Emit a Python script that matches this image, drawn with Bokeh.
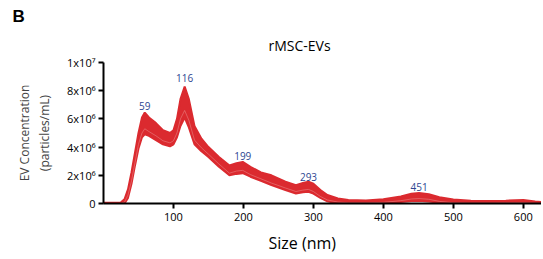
from bokeh.plotting import figure
from bokeh.models import Label, FixedTicker, ColumnDataSource, Range1d, Title
from bokeh.embed import file_html
from bokeh.resources import INLINE

size_nm = [0, 10, 20, 25, 30, 35, 40, 45, 50, 55, 59, 65, 75, 85, 95, 100, 105, 110, 116, 122,
           130, 140, 150, 165, 180, 190, 199, 210, 225, 240, 260, 275, 285, 293, 300, 310, 320,
           335, 350, 375, 400, 425, 440, 451, 465, 480, 500, 525, 550, 575, 600, 617, 626]
upper_e6 = [0.05, 0.05, 0.05, 0.08, 0.3, 1.0, 2.2, 3.6, 5.0, 6.1, 6.45, 6.1, 5.7, 5.2, 5.0, 5.2, 6.0, 7.4, 8.3, 7.4,
            5.5, 4.6, 4.0, 3.3, 2.7, 2.85, 2.95, 2.6, 2.2, 2.0, 1.55, 1.3, 1.45, 1.55, 1.4, 0.95, 0.6,
            0.35, 0.25, 0.22, 0.3, 0.5, 0.7, 0.75, 0.65, 0.45, 0.28, 0.2, 0.18, 0.2, 0.25, 0.15, 0.1]
lower_e6 = [-0.05, -0.05, -0.05, -0.05, 0.0, 0.4, 1.4, 2.7, 3.9, 4.7, 4.9, 4.8, 4.5, 4.2, 4.05, 4.2, 4.7, 5.5, 6.1, 5.4,
            4.2, 3.7, 3.3, 2.6, 2.0, 2.1, 2.15, 1.9, 1.6, 1.3, 0.95, 0.7, 0.8, 0.83, 0.7, 0.4, 0.15,
            0.0, -0.02, -0.02, 0.0, 0.1, 0.17, 0.2, 0.15, 0.05, -0.02, -0.05, -0.05, -0.03, -0.02, -0.05, -0.05]
mean_e6 = [0.0, 0.0, 0.0, 0.0, 0.1, 0.6, 1.6, 2.9, 4.2, 5.0, 5.3, 5.1, 4.8, 4.45, 4.3, 4.45, 5.0, 6.0, 6.6, 5.9,
           4.5, 3.95, 3.5, 2.8, 2.15, 2.3, 2.35, 2.05, 1.75, 1.45, 1.1, 0.85, 0.95, 1.0, 0.85, 0.5, 0.25,
           0.1, 0.05, 0.05, 0.08, 0.2, 0.32, 0.35, 0.3, 0.15, 0.05, 0.03, 0.03, 0.05, 0.06, 0.02, 0.0]

peak_sizes = [59, 116, 199, 293, 451]
peak_label_y_e6 = [6.9, 8.9, 3.4, 1.85, 1.15]
peak_texts = ["59", "116", "199", "293", "451"]

x_ticks = [100, 200, 300, 400, 500, 600]
y_ticks = [0, 2000000, 4000000, 6000000, 8000000, 10000000]
y_tick_labels = ["0", "2x10\u2076", "4x10\u2076", "6x10\u2076", "8x10\u2076", "1x10\u2077"]

RED = "#db2a2f"
FONT = "Open Sans"
W, H = 541, 259

upper = [v * 1e6 for v in upper_e6]
lower = [v * 1e6 for v in lower_e6]
mean = [v * 1e6 for v in mean_e6]

p = figure(width=W, height=H, output_backend="svg", toolbar_location=None,
           x_range=Range1d(0, 626), y_range=Range1d(0, 1e7),
           min_border_left=103, min_border_top=62, min_border_bottom=56, min_border_right=0)
p.outline_line_color = None
p.grid.visible = False
p.background_fill_color = "white"

src = ColumnDataSource(dict(x=size_nm, up=upper, lo=lower, mean=mean))
p.varea(x="x", y1="lo", y2="up", source=src, fill_color=RED)
p.line(x="x", y="up", source=src, line_color=RED, line_width=2)
p.line(x="x", y="lo", source=src, line_color=RED, line_width=2)
p.line(x="x", y="mean", source=src, line_color="#f0a0a0", line_width=0.8, line_alpha=0.55)

for xs, ys, t in zip(peak_sizes, peak_label_y_e6, peak_texts):
    p.add_layout(Label(x=xs, y=ys * 1e6, text=t, text_font=FONT, text_font_size="10px",
                       text_color="#2d4691", text_align="center", text_baseline="middle"))

for ax in (p.xaxis[0], p.yaxis[0]):
    ax.axis_line_width = 2
    ax.axis_line_color = "black"
    ax.major_tick_line_width = 2
    ax.major_tick_line_color = "black"
    ax.major_tick_out = 5
    ax.major_tick_in = 0
    ax.minor_tick_line_color = None
    ax.major_label_text_font = FONT
    ax.major_label_text_font_size = "11px"
    ax.major_label_text_color = "black"

p.xaxis.ticker = FixedTicker(ticks=x_ticks)
p.xaxis.major_label_standoff = 4
p.yaxis.ticker = FixedTicker(ticks=y_ticks)
p.yaxis.major_label_overrides = {t: l for t, l in zip(y_ticks, y_tick_labels)}
p.yaxis.major_label_standoff = 3
p.yaxis.axis_label = "EV Concentration\n(particles/mL)"
p.yaxis.axis_label_text_font = FONT
p.yaxis.axis_label_text_font_size = "12px"
p.yaxis.axis_label_text_font_style = "normal"
p.yaxis.axis_label_standoff = 11

p.add_layout(Title(text="Size (nm)", align="left", offset=165, standoff=12,
                   text_font=FONT, text_font_size="16px", text_font_style="normal",
                   text_color="black"), "below")
p.add_layout(Title(text="rMSC-EVs", align="left", offset=165, standoff=16,
                   text_font=FONT, text_font_size="14px", text_font_style="normal",
                   text_color="black"), "above")
p.add_layout(Title(text="B", align="left", offset=-91, standoff=0,
                   text_font="Liberation Sans", text_font_size="17px", text_font_style="bold",
                   text_color="black"), "above")

open("out.html", "w").write(file_html(p, INLINE))
